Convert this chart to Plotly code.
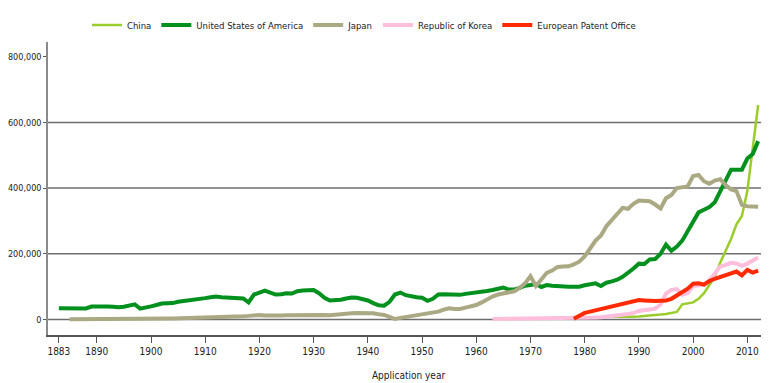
import plotly.graph_objects as go

# ---- data ----
us_years = list(range(1883, 2013))
us_values = [
    34000, 34500, 35000, 35500, 35500, 33500, 39500, 40000, 39500, 39500,
    38500, 37000, 39000, 42000, 46000, 33000, 38000, 40000, 44000, 48500,
    49500, 50000, 54000, 56000, 57000, 59500, 63000, 65000, 68000, 70000,
    68000, 67500, 67000, 67500, 64000, 52000, 76000, 82000, 88000, 82000,
    76000, 77000, 80000, 79000, 86000, 88000, 89000, 90000, 80000, 66000,
    58000, 58000, 60000, 64000, 67000, 66000, 62000, 58000, 50000, 43000,
    42000, 54000, 76000, 82000, 74000, 70000, 68000, 66000, 57000, 63000,
    76000, 77000, 76000, 76000, 75000, 78000, 80000, 80000, 85000, 87000,
    90000, 92000, 97000, 91000, 91000, 96000, 103000, 105000, 108000, 99000,
    105000, 103000, 101000, 101000, 100000, 100000, 100000, 104000, 107000, 110000,
    102000, 112000, 116000, 121000, 130000, 142000, 155000, 170000, 169000, 183000,
    184000, 200000, 228000, 209000, 222000, 240000, 267000, 295000, 326000, 334000,
    342000, 357000, 391000, 426000, 456000, 456000, 456000, 490000, 504000, 543000,
]

jp_years = list(range(1885, 2013))
jp_values = [
    500, 800, 1000, 1200, 1300, 1400, 1300, 1200, 1200, 1100,
    1200, 1400, 1600, 1800, 2500, 2800, 3000, 3200, 3300, 3200,
    3500, 4000, 4500, 5000, 5500, 6000, 6500, 7000, 7200, 7000,
    7500, 8500, 10000, 11000, 13000, 14000, 12500, 11500, 11000, 12500,
    13000, 13500, 14000, 15000, 15500, 16000, 15000, 14000, 13000, 15000,
    18000, 18500, 19000, 19500, 20000, 21000, 19000, 16000, 14000, 8000,
    1500, 5000, 8000, 10500, 12500, 14000, 17000, 20000, 24000, 30000,
    34000, 32000, 32000, 36000, 40000, 44000, 52000, 62000, 70000, 76000,
    80000, 84000, 86000, 96000, 110000, 132000, 102000, 122000, 142000, 149000,
    160000, 161000, 162000, 168000, 176000, 192000, 218000, 240000, 256000, 284000,
    303000, 323000, 340000, 337000, 352000, 362000, 362000, 360000, 350000, 338000,
    369000, 379000, 400000, 402000, 405000, 437000, 440000, 421000, 413000, 423000,
    427000, 409000, 396000, 391000, 349000, 345000, 343000, 343000,
]

kr_years = list(range(1963, 2013))
kr_values = [
    1500, 1600, 1700, 1800, 1900, 2000, 2100, 2200, 2300, 2400,
    2600, 2800, 3000, 3200, 3500, 4000, 4500, 5000, 5300, 5900,
    7000, 8500, 10600, 12800, 14000, 17000, 20000, 25800, 28000, 31000,
    33000, 45700, 78500, 90300, 92700, 75200, 80600, 102000, 104600, 106100,
    118700, 140100, 160900, 166200, 172500, 170600, 163500, 170100, 178900, 188900,
]

epo_years = list(range(1978, 2013))
epo_values = [
    2000, 12000, 20000, 24000, 28000, 32000, 37000, 40000, 44000, 47000,
    52000, 57000, 59000, 58000, 56000, 56000, 57000, 58000, 63000, 73000,
    83000, 94000, 109000, 110000, 106000, 117000, 124000, 129000, 135000, 141000,
    146000, 134000, 151000, 143000, 149000,
]

cn_years = list(range(1985, 2013))
cn_values = [
    8500, 8000, 8000, 8500, 8500, 9000, 10000, 12000, 14000, 15000,
    17000, 19000, 23000, 46000, 48000, 52000, 63000, 80000, 105000, 130000,
    173000, 210000, 245000, 290000, 315000, 391000, 526000, 653000,
]

x_ticks = [1883, 1890, 1900, 1910, 1920, 1930, 1940, 1950, 1960, 1970, 1980, 1990, 2000, 2010]
y_ticks = [0, 200000, 400000, 600000, 800000]
grid_levels = [0, 200000, 400000, 600000]

FONT = "DejaVu Sans Condensed, Liberation Sans Narrow, Arial Narrow, sans-serif"
TXT = "#222222"

series = [
    ("China", cn_years, cn_values, "#9acd2c", 2.5),
    ("United States of America", us_years, us_values, "#00901e", 4),
    ("Japan", jp_years, jp_values, "#aba983", 4),
    ("Republic of Korea", kr_years, kr_values, "#ffbedc", 4),
    ("European Patent Office", epo_years, epo_values, "#ff2a00", 4),
]

fig = go.Figure()
for name, xs, ys, color, w in series:
    fig.add_trace(go.Scatter(x=xs, y=ys, name=name, mode="lines",
                             line=dict(color=color, width=w)))

for g in grid_levels:
    fig.add_shape(type="line", xref="paper", x0=0, x1=1, yref="y", y0=g, y1=g,
                  line=dict(color="#6e6e6e", width=1.5), layer="below")

# the page adds an 8px body margin, so the figure is 8px smaller and shifted
fig.update_layout(
    width=761, height=375,
    margin=dict(l=40, r=0, t=34, b=48),
    paper_bgcolor="white", plot_bgcolor="white",
    font=dict(family=FONT, size=10, color=TXT),
    showlegend=True,
    legend=dict(orientation="h", x=0.054, xanchor="left", y=1.058, yanchor="middle",
                font=dict(family=FONT, size=9.5, color=TXT),
                bgcolor="rgba(0,0,0,0)"),
    xaxis=dict(range=[1881, 2014], tickvals=x_ticks, showgrid=False, zeroline=False,
               showline=True, linecolor="#555555", linewidth=1.5,
               ticks="outside", ticklen=6, tickcolor="#555555", tickwidth=1,
               tickfont=dict(family=FONT, size=10, color=TXT),
               automargin=False,
               title=dict(text="Application year", standoff=16,
                          font=dict(family=FONT, size=10, color=TXT))),
    yaxis=dict(range=[-47200, 844700], tickvals=y_ticks, tickformat=",",
               showgrid=False, zeroline=False,
               showline=True, linecolor="#8a8a8a", linewidth=1.5,
               ticks="outside", ticklen=3, tickcolor="#555555", tickwidth=1,
               tickfont=dict(family=FONT, size=9, color=TXT),
               automargin=False),
)

fig.write_html("out.html")
